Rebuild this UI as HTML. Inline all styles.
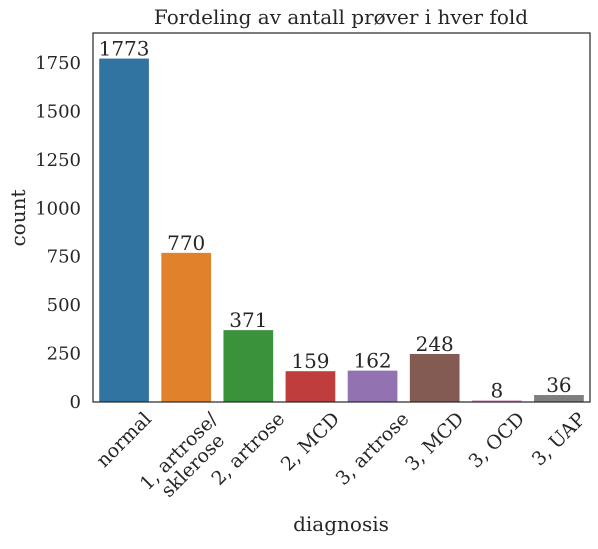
<!DOCTYPE html>
<html><head><meta charset="utf-8"><style>
body{margin:0;background:#fff}
svg text{font-family:"DejaVu Serif","Liberation Serif",serif;fill:#262626}
</style></head><body>
<svg id="c" width="598" height="544" xmlns="http://www.w3.org/2000/svg">
<text x="341" y="24" font-size="20" text-anchor="middle">Fordeling av antall prøver i hver fold</text>
<text x="341" y="531" font-size="20" text-anchor="middle">diagnosis</text>
<text transform="translate(25,218) rotate(-90)" font-size="20" text-anchor="middle">count</text>
<g id="bars"></g><g id="yt"></g><g id="xt"></g>
<rect x="93" y="33" width="497" height="369" fill="none" stroke="#262626" stroke-width="1.2"/>
</svg>
<script>
const categories=[["normal"],["1, artrose/","sklerose"],["2, artrose"],["2, MCD"],["3, artrose"],["3, MCD"],["3, OCD"],["3, UAP"]];
const counts=[1773,770,371,159,162,248,8,36];
const yTicks=[0,250,500,750,1000,1250,1500,1750];
const colors=["#3274a1","#e1812c","#3a923a","#c03d3e","#9372b2","#845b53","#d684bd","#7f7f7f"];
const NS="http://www.w3.org/2000/svg";
const L=93,R=590,B=402,T=33,YMAX=1905;
const y=v=>B-v/YMAX*(B-T);
const slot=(R-L)/categories.length;
const xc=i=>L+slot*(i+0.5);
function mk(t,a,p){const e=document.createElementNS(NS,t);for(const k in a)e.setAttribute(k,a[k]);p.appendChild(e);return e;}
const bars=document.getElementById('bars'),yt=document.getElementById('yt'),xt=document.getElementById('xt');
counts.forEach((v,i)=>{
  const w=slot*0.8;
  const r=mk('rect',{x:xc(i)-w/2,y:y(v),width:w,height:B-y(v),fill:colors[i]},bars);
  
  
  const t=mk('text',{x:xc(i),y:y(v)-3,'font-size':20,'text-anchor':'middle'},bars);
  t.textContent=v;
  
  
});
yTicks.forEach(v=>{
  const t=mk('text',{x:81,y:y(v)+6,'font-size':18,'text-anchor':'end'},yt);
  t.textContent=v;
  
  
});
categories.forEach((lines,i)=>{
  const g=mk('g',{},xt);
  
  
  const t=mk('text',{'font-size':19,'text-anchor':'middle'},g);
  lines.forEach((s,j)=>{const sp=mk('tspan',{x:0,dy:j?20:0},t);sp.textContent=s;});
  const bb=t.getBBox();
  const cx=bb.x+bb.width/2,cy=bb.y+bb.height/2;
  const h=(bb.width+bb.height)*0.7071;
  g.setAttribute('transform',`translate(${xc(i)},${B+6+h/2}) rotate(-45) translate(${-cx},${-cy})`);
});
</script>
</body></html>
